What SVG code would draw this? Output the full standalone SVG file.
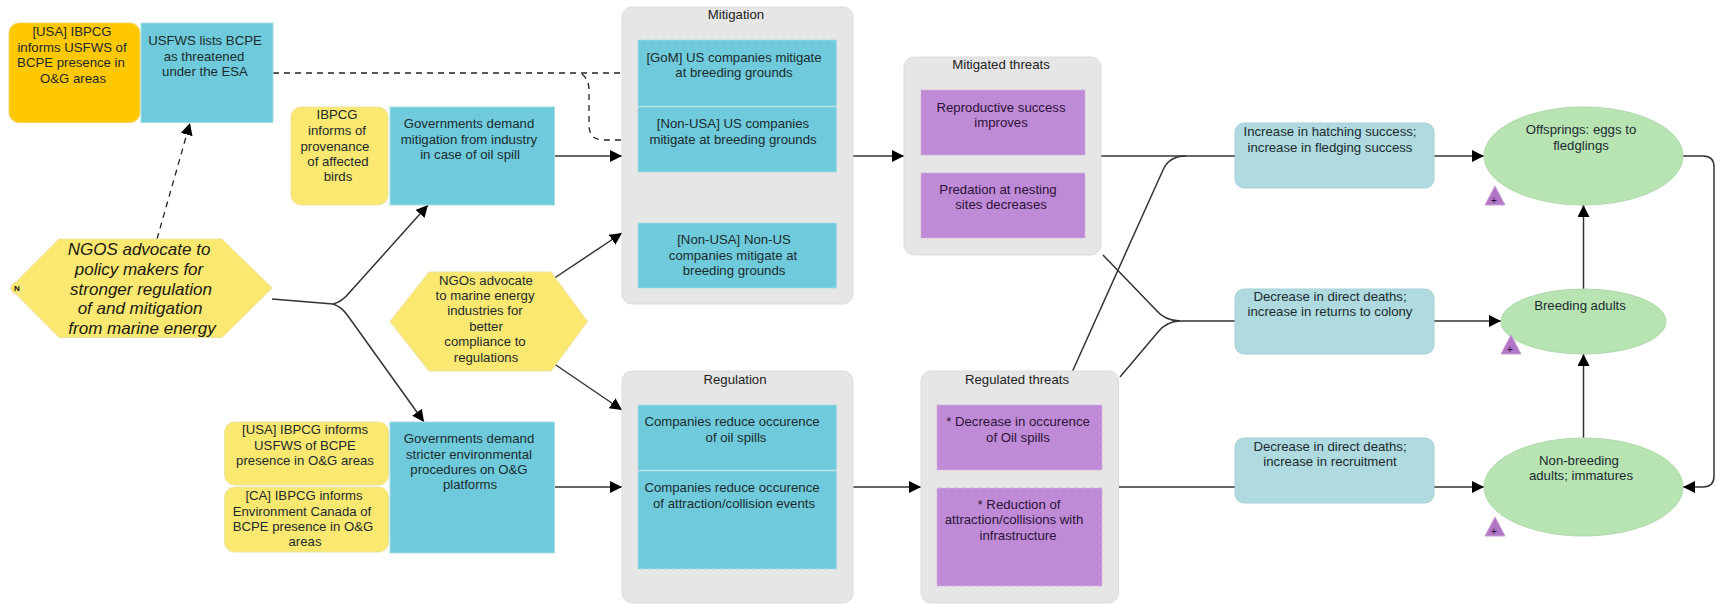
<svg xmlns="http://www.w3.org/2000/svg" width="1715" height="604" viewBox="0 0 1715 604">
<style>
text{font-family:"Liberation Sans",Arial,sans-serif;font-size:13.2px;fill:#1c2a2e;text-anchor:middle}
.it{font-style:italic;font-size:17px;fill:#1a1a10}
.t{fill:#222}
.y{fill:#2a2a14}
.pt{fill:#2a1238}
.g{fill:#e6e6e6;stroke:#dcdcdc;stroke-width:1}
.b{fill:#6fcbdb;stroke:#a5dde6;stroke-width:1}
.bd{fill:#6fcbdb;stroke:#a5dde6;stroke-width:1;stroke-dasharray:5 3}
.p{fill:#c08bd6;stroke:#d2aee0;stroke-width:1;stroke-dasharray:5 3}
.ye{fill:#fbe870;stroke:#ede3a0;stroke-width:1}
.or{fill:#ffc800;stroke:#f2d264;stroke-width:1}
.tl{fill:#aedae0;stroke:#a6d0d6;stroke-width:1}
.el{fill:#b8e4b4;stroke:#aed8aa;stroke-width:1}
.tr{fill:#b275c6;stroke:#c9a0d8;stroke-width:1}
.c{fill:none;stroke:#333;stroke-width:1.5}
.ca{fill:none;stroke:#333;stroke-width:1.5;marker-end:url(#ah)}
.d{fill:none;stroke:#222;stroke-width:1.3;stroke-dasharray:6 5}
.da{fill:none;stroke:#222;stroke-width:1.3;stroke-dasharray:6 5;marker-end:url(#ah)}
</style>
<defs>
<marker id="ah" markerUnits="userSpaceOnUse" markerWidth="14" markerHeight="14" refX="12" refY="6" orient="auto"><path d="M0 0L12 6L0 12Z" fill="#000"/></marker>
</defs>
<g id="connectors">
<path class="da" d="M157 239L190 123"/>
<path class="da" d="M273 73H638"/>
<path class="da" d="M582 74Q589 80 589 90V125Q589 140 604 140H638"/>
<path class="c" d="M272 299L333 304"/>
<path class="ca" d="M333 304Q342 302 350 292L428 205"/>
<path class="ca" d="M333 304Q342 307 348 316L424 422"/>
<path class="ca" d="M554.500 156H622"/>
<path class="ca" d="M554.500 487H622"/>
<path class="ca" d="M550 281L622 233"/>
<path class="ca" d="M550 361L622 410"/>
<path class="ca" d="M853 156H904"/>
<path class="ca" d="M853 487H921"/>
<path class="c" d="M1101 156H1235"/>
<path class="c" d="M1072.600 371L1163 170Q1169 156 1186 156"/>
<path class="c" d="M1103 255L1155 309Q1165 321 1180 321H1235"/>
<path class="c" d="M1120 377L1158 332Q1167 321 1180 321"/>
<path class="c" d="M1118.500 487H1235"/>
<path class="ca" d="M1434 156H1484"/>
<path class="ca" d="M1434 321H1501"/>
<path class="ca" d="M1434 487H1484"/>
<path class="ca" d="M1583.500 289V205"/>
<path class="ca" d="M1583.500 438V354"/>
<path class="ca" d="M1683 156H1703Q1714 156 1714 167V476Q1714 487 1703 487H1683"/>
</g>
<g id="n-usa-orange"><rect class="or" x="9" y="23" width="131" height="99.500" rx="10"/>
<text x="72" y="36">[USA] IBPCG</text><text x="72" y="52">informs USFWS of</text><text x="71" y="67">BCPE presence in</text><text x="73" y="83">O&amp;G areas</text></g>
<g id="n-usfws"><rect class="b" x="141" y="23" width="132" height="99.500"/>
<text x="205" y="45">USFWS lists BCPE</text><text x="204" y="60.500">as threatened</text><text x="205" y="76">under the ESA</text></g>
<g id="n-ibpcg"><rect class="ye" x="291" y="107" width="97" height="98" rx="10"/>
<text x="337" y="119">IBPCG</text><text x="337" y="135">informs of</text><text x="335" y="151">provenance</text><text x="338" y="166">of affected</text><text x="338" y="181">birds</text></g>
<g id="n-gov1"><rect class="b" x="390" y="107" width="164.500" height="98"/>
<text x="469" y="128">Governments demand</text><text x="469" y="144">mitigation from industry</text><text x="470" y="159">in case of oil spill</text></g>
<g id="n-ngos"><path class="ye" d="M10 288L59 239H222L272 288L222 337.500H59Z"/>
<text class="it" x="139" y="255">NGOS advocate to</text><text class="it" x="139" y="275">policy makers for</text><text class="it" x="141" y="295">stronger regulation</text><text class="it" x="140" y="314">of and mitigation</text><text class="it" x="142" y="334">from marine energy</text>
<circle cx="17" cy="288" r="6" fill="#fbe870" stroke="#ede3a0"/><text x="17" y="291" style="font-size:8px;font-weight:bold;fill:#111">N</text></g>
<g id="n-ngo2"><path class="ye" d="M390 321.500L429 272H551L587.500 321.500L551 371H429Z"/>
<text x="486" y="285">NGOs advocate</text><text x="485" y="300">to marine energy</text><text x="485" y="315">industries for</text><text x="486" y="331">better</text><text x="485" y="346">compliance to</text><text x="486" y="362">regulations</text></g>
<g id="n-usa2"><rect class="ye" x="224.600" y="422" width="164" height="63" rx="10"/>
<text x="305" y="434">[USA] IBPCG informs</text><text x="305" y="450">USFWS of BCPE</text><text x="305" y="465">presence in O&amp;G areas</text></g>
<g id="n-ca"><rect class="ye" x="224.600" y="487" width="164" height="65" rx="10"/>
<text x="304" y="500">[CA] IBPCG informs</text><text x="302" y="515.500">Environment Canada of</text><text x="303" y="531">BCPE presence in O&amp;G</text><text x="305" y="546">areas</text></g>
<g id="n-gov2"><rect class="b" x="390" y="422" width="164.500" height="131"/>
<text x="469" y="443">Governments demand</text><text x="469" y="458.500">stricter environmental</text><text x="469" y="473.500">procedures on O&amp;G</text><text x="470" y="489">platforms</text></g>
<g id="n-mitigation"><rect class="g" x="622" y="7" width="231" height="297" rx="10"/>
<text class="t" x="736" y="19">Mitigation</text>
<rect class="bd" x="638" y="40" width="198.500" height="66"/><text x="734" y="62">[GoM] US companies mitigate</text><text x="734" y="77">at breeding grounds</text>
<rect class="bd" x="638" y="107" width="198.500" height="65"/><text x="733" y="128">[Non-USA] US companies</text><text x="733" y="144">mitigate at breeding grounds</text>
<rect class="bd" x="638" y="223" width="198.500" height="65"/><text x="734" y="244">[Non-USA] Non-US</text><text x="733" y="259.500">companies mitigate at</text><text x="734" y="275">breeding grounds</text></g>
<g id="n-mitigated"><rect class="g" x="904" y="57" width="197" height="198" rx="10"/>
<text class="t" x="1001" y="69">Mitigated threats</text>
<rect class="p" x="921" y="90" width="164" height="65"/><text class="pt" x="1001" y="112">Reproductive success</text><text class="pt" x="1001" y="127">improves</text>
<rect class="p" x="921" y="173" width="164" height="65"/><text class="pt" x="998" y="194">Predation at nesting</text><text class="pt" x="1001" y="209">sites decreases</text></g>
<g id="n-regulation"><rect class="g" x="622" y="371" width="231" height="232" rx="10"/>
<text class="t" x="735" y="384">Regulation</text>
<rect class="bd" x="638" y="405" width="198.500" height="65"/><text x="732" y="426">Companies reduce occurence</text><text x="736" y="442">of oil spills</text>
<rect class="bd" x="638" y="471" width="198.500" height="98"/><text x="732" y="492">Companies reduce occurence</text><text x="734" y="508">of attraction/collision events</text></g>
<g id="n-regulated"><rect class="g" x="921" y="371" width="197.500" height="232" rx="10"/>
<text class="t" x="1017" y="384">Regulated threats</text>
<rect class="p" x="937" y="405" width="165" height="65"/><text class="pt" x="1018" y="426">* Decrease in occurence</text><text class="pt" x="1018" y="442">of Oil spills</text>
<rect class="p" x="937" y="488" width="165" height="98"/><text class="pt" x="1019" y="508.500">* Reduction of</text><text class="pt" x="1014" y="524">attraction/collisions with</text><text class="pt" x="1018" y="540">infrastructure</text></g>
<g id="n-hatch"><rect class="tl" x="1235" y="123" width="199" height="65" rx="9"/>
<text x="1330" y="136">Increase in hatching success;</text><text x="1330" y="151.500">increase in fledging success</text></g>
<g id="n-returns"><rect class="tl" x="1235" y="289" width="199" height="65" rx="9"/>
<text x="1330" y="301">Decrease in direct deaths;</text><text x="1330" y="316">increase in returns to colony</text></g>
<g id="n-recruit"><rect class="tl" x="1235" y="438" width="199" height="65" rx="9"/>
<text x="1330" y="451">Decrease in direct deaths;</text><text x="1330" y="465.500">increase in recruitment</text></g>
<g id="n-offspring"><ellipse class="el" cx="1583.500" cy="156" rx="99.500" ry="49"/>
<text x="1581" y="134">Offsprings: eggs to</text><text x="1581" y="149.500">fledglings</text>
<path class="tr" d="M1495 186L1505 205H1485Z"/><text x="1494" y="204" style="font-size:10px;fill:#2a0a38">+</text></g>
<g id="n-breeding"><ellipse class="el" cx="1583.500" cy="321.500" rx="82.500" ry="32.500"/>
<text x="1580" y="309.500">Breeding adults</text>
<path class="tr" d="M1511 335L1521 354H1501Z"/><text x="1510" y="353" style="font-size:10px;fill:#2a0a38">+</text></g>
<g id="n-nonbreeding"><ellipse class="el" cx="1583.500" cy="487" rx="99.500" ry="49"/>
<text x="1579" y="465">Non-breeding</text><text x="1581" y="480">adults; immatures</text>
<path class="tr" d="M1495 517L1505 536H1485Z"/><text x="1494" y="535" style="font-size:10px;fill:#2a0a38">+</text></g>
</svg>
